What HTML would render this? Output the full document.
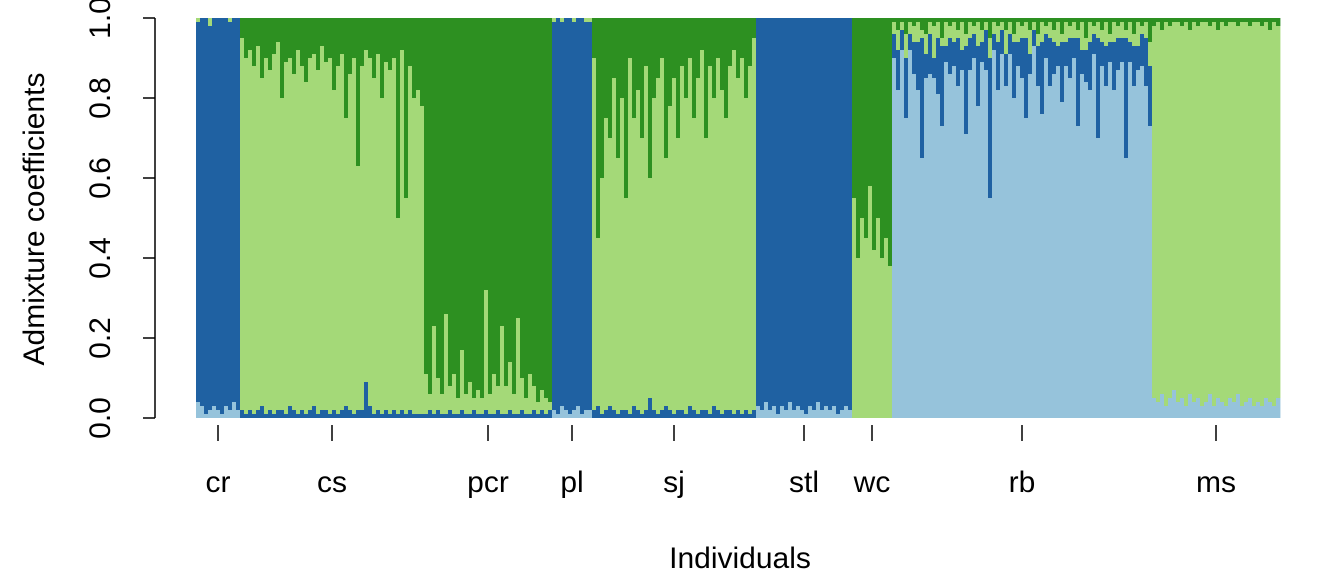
<!DOCTYPE html>
<html><head><meta charset="utf-8">
<style>
html,body{margin:0;padding:0;background:#fff;}
svg{display:block;font-family:"Liberation Sans",Arial,sans-serif;}
</style></head>
<body>
<svg id="chart" width="1344" height="576" viewBox="0 0 1344 576"></svg>
<script>
// Population names (categories)
const groups = ["cr","cs","pcr","pl","sj","stl","wc","rb","ms"];
// Dominant component per group: 0 light-blue, 1 dark-blue, 2 light-green, 3 dark-green
const dominant = [1,2,3,1,2,1,2,0,2];
// Minor component fractions per individual (same length within a group)
const crLB = [0.04,0.03,0.01,0.02,0.03,0.02,0.01,0.03,0.02,0.04,0.02];
const crLG = [0.01,0,0,0.02,0,0,0,0,0.01,0,0];
const csDB = [0.02,0.01,0.02,0.01,0.02,0.03,0.01,0.02,0.01,0.02,0.02,0.01,0.03,0.02,0.01,0.02,0.01,0.02,0.03,0.01,0.02,0.02,0.01,0.02,0.01,0.02,0.03,0.02,0.01,0.02,0.02,0.09,0.03,0.01,0.02,0.01,0.02,0.01,0.02,0.01,0.02,0.01,0.02,0.01,0.01,0.01];
const csDG = [0.05,0.1,0.08,0.12,0.07,0.15,0.1,0.13,0.09,0.06,0.2,0.11,0.1,0.14,0.08,0.12,0.16,0.1,0.09,0.13,0.07,0.11,0.1,0.18,0.12,0.09,0.25,0.14,0.1,0.37,0.12,0.08,0.1,0.15,0.09,0.2,0.11,0.13,0.1,0.5,0.08,0.45,0.12,0.2,0.18,0.22];
const pcrDB = [0.01,0.02,0.01,0.02,0.01,0.01,0.02,0.01,0.01,0.02,0.01,0.01,0.02,0.01,0.01,0.02,0.01,0.01,0.02,0.01,0.01,0.02,0.01,0.01,0.02,0.01,0.01,0.02,0.01,0.02,0.01,0.02];
const pcrLG = [0.1,0.04,0.22,0.08,0.05,0.25,0.06,0.1,0.04,0.15,0.05,0.08,0.03,0.06,0.04,0.3,0.05,0.1,0.06,0.22,0.07,0.12,0.05,0.24,0.08,0.04,0.1,0.06,0.03,0.05,0.04,0.02];
const plLB = [0.02,0.01,0.03,0.02,0.01,0.02,0.03,0.01,0.02,0.02];
const plLG = [0.01,0,0.01,0,0,0.01,0,0,0.01,0.01];
const sjDB = [0.02,0.03,0.01,0.02,0.03,0.02,0.01,0.02,0.02,0.01,0.03,0.02,0.01,0.02,0.05,0.02,0.01,0.02,0.03,0.02,0.01,0.02,0.02,0.01,0.03,0.02,0.01,0.02,0.02,0.01,0.03,0.02,0.01,0.02,0.02,0.01,0.02,0.01,0.02,0.01,0.02];
const sjDG = [0.1,0.55,0.4,0.25,0.3,0.15,0.35,0.2,0.45,0.1,0.25,0.18,0.3,0.12,0.4,0.2,0.15,0.1,0.35,0.22,0.15,0.3,0.12,0.2,0.1,0.25,0.15,0.08,0.3,0.12,0.2,0.1,0.18,0.25,0.12,0.08,0.15,0.1,0.2,0.12,0.05];
const stlLB = [0.03,0.02,0.04,0.02,0.03,0.01,0.03,0.02,0.04,0.02,0.03,0.02,0.01,0.03,0.02,0.04,0.02,0.03,0.02,0.03,0.01,0.02,0.03,0.02];
const wcDG = [0.45,0.6,0.5,0.55,0.42,0.58,0.5,0.6,0.55,0.62];
const rbDB = [0.06,0.1,0.05,0.15,0.04,0.08,0.12,0.3,0.06,0.1,0.05,0.14,0.2,0.04,0.09,0.06,0.12,0.05,0.22,0.08,0.06,0.15,0.05,0.1,0.35,0.04,0.12,0.06,0.08,0.05,0.14,0.06,0.1,0.2,0.05,0.04,0.1,0.18,0.06,0.12,0.08,0.05,0.15,0.06,0.1,0.05,0.22,0.06,0.08,0.12,0.05,0.25,0.06,0.1,0.05,0.12,0.08,0.06,0.3,0.05,0.1,0.06,0.08,0.12,0.15];
const rbLG = [0.03,0.05,0.02,0.06,0.03,0.04,0.05,0.02,0.05,0.03,0.08,0.04,0.02,0.06,0.03,0.05,0.02,0.07,0.03,0.04,0.02,0.06,0.03,0.02,0.05,0.03,0.04,0.02,0.06,0.03,0.02,0.05,0.03,0.04,0.06,0.02,0.03,0.05,0.02,0.04,0.03,0.06,0.02,0.05,0.03,0.04,0.02,0.07,0.03,0.05,0.02,0.04,0.03,0.06,0.02,0.05,0.03,0.04,0.02,0.05,0.03,0.06,0.02,0.04,0.06];
const rbDG = [0.01,0.03,0.01,0.04,0.01,0.02,0.01,0.03,0.04,0.01,0.02,0.01,0.05,0.01,0.02,0.01,0.03,0.01,0.04,0.01,0.02,0.01,0.03,0.01,0.05,0.01,0.02,0.01,0.03,0.01,0.04,0.01,0.02,0.01,0.03,0.01,0.04,0.01,0.02,0.01,0.03,0.01,0.04,0.01,0.02,0.01,0.03,0.01,0.05,0.01,0.02,0.01,0.03,0.01,0.04,0.01,0.02,0.01,0.03,0.01,0.04,0.01,0.02,0.01,0.06];
const msLB = [0.05,0.04,0.06,0.03,0.05,0.07,0.04,0.05,0.03,0.06,0.04,0.05,0.03,0.04,0.06,0.03,0.05,0.04,0.03,0.05,0.04,0.06,0.03,0.04,0.05,0.03,0.04,0.03,0.05,0.04,0.03,0.05];
const msDG = [0.02,0.01,0.03,0.01,0.02,0.01,0.01,0.02,0.01,0.03,0.01,0.02,0.01,0.01,0.02,0.01,0.03,0.01,0.02,0.01,0.01,0.02,0.01,0.01,0.02,0.01,0.01,0.02,0.01,0.03,0.01,0.02];
const minors = [
  [[0,crLB],[2,crLG]],
  [[1,csDB],[3,csDG]],
  [[1,pcrDB],[2,pcrLG]],
  [[0,plLB],[2,plLG]],
  [[1,sjDB],[3,sjDG]],
  [[0,stlLB]],
  [[3,wcDG]],
  [[1,rbDB],[2,rbLG],[3,rbDG]],
  [[0,msLB],[3,msDG]]
];
const yTicks = [0,0.2,0.4,0.6,0.8,1.0];
const yTickLabels = ["0.0","0.2","0.4","0.6","0.8","1.0"];

const colors = ["#96c3db","#1f61a2","#a4d978","#2d9021"];
const NS = "http://www.w3.org/2000/svg";
const svg = document.getElementById('chart');
const X0 = 196, X1 = 1280, Y0 = 418, Y1 = 18;
const counts = minors.map(m => m[0][1].length);
const total = counts.reduce((a,b)=>a+b,0);
const xs = i => X0 + (X1 - X0) * i / total;
const ys = v => Y0 + (Y1 - Y0) * v;
function mk(tag, attrs){const e=document.createElementNS(NS,tag);for(const k in attrs)e.setAttribute(k,attrs[k]);svg.appendChild(e);return e;}

let idx = 0;
groups.forEach((g, gi) => {
  const n = counts[gi];
  for (let j = 0; j < n; j++) {
    const q = [0,0,0,0];
    let s = 0;
    minors[gi].forEach(([c, arr]) => { q[c] = arr[j]; s += arr[j]; });
    q[dominant[gi]] = Math.max(0, 1 - s);
    let cum = 0;
    for (let c = 0; c < 4; c++) {
      if (q[c] <= 0) continue;
      const r = mk('rect', {x: xs(idx), y: ys(cum + q[c]), width: xs(idx+1) - xs(idx) + 0.4, height: ys(cum) - ys(cum + q[c]), fill: colors[c]});
      
      
      cum += q[c];
    }
    idx++;
  }
});

// Y axis
const yax = mk('line', {x1:155, x2:155, y1:ys(0), y2:ys(1), stroke:'#000', 'stroke-width':1.5});


yTicks.forEach((t, i) => {
  const tk = mk('line', {x1:143, x2:155, y1:ys(t), y2:ys(t), stroke:'#000', 'stroke-width':1.5});
  
  
  const tx = mk('text', {x:0, y:0, 'font-size':30, 'text-anchor':'middle', transform:'translate(110,' + ys(t) + ') rotate(-90)'});
  tx.textContent = yTickLabels[i];
  
  
});

// X ticks at group centers
let start = 0;
groups.forEach((g, gi) => {
  const cx = (xs(start) + xs(start + counts[gi])) / 2;
  const tk = mk('line', {x1:cx, x2:cx, y1:425, y2:441, stroke:'#000', 'stroke-width':1.5});
  
  
  const tx = mk('text', {x:cx, y:492, 'font-size':30, 'text-anchor':'middle'});
  tx.textContent = g;
  
  
  start += counts[gi];
});

const xt = mk('text', {x:740, y:568, 'font-size':30, 'text-anchor':'middle'});
xt.textContent = 'Individuals';


const yt = mk('text', {x:0, y:0, 'font-size':30, 'text-anchor':'middle', transform:'translate(44,219) rotate(-90)'});
yt.textContent = 'Admixture coefficients';


</script>
</body></html>
